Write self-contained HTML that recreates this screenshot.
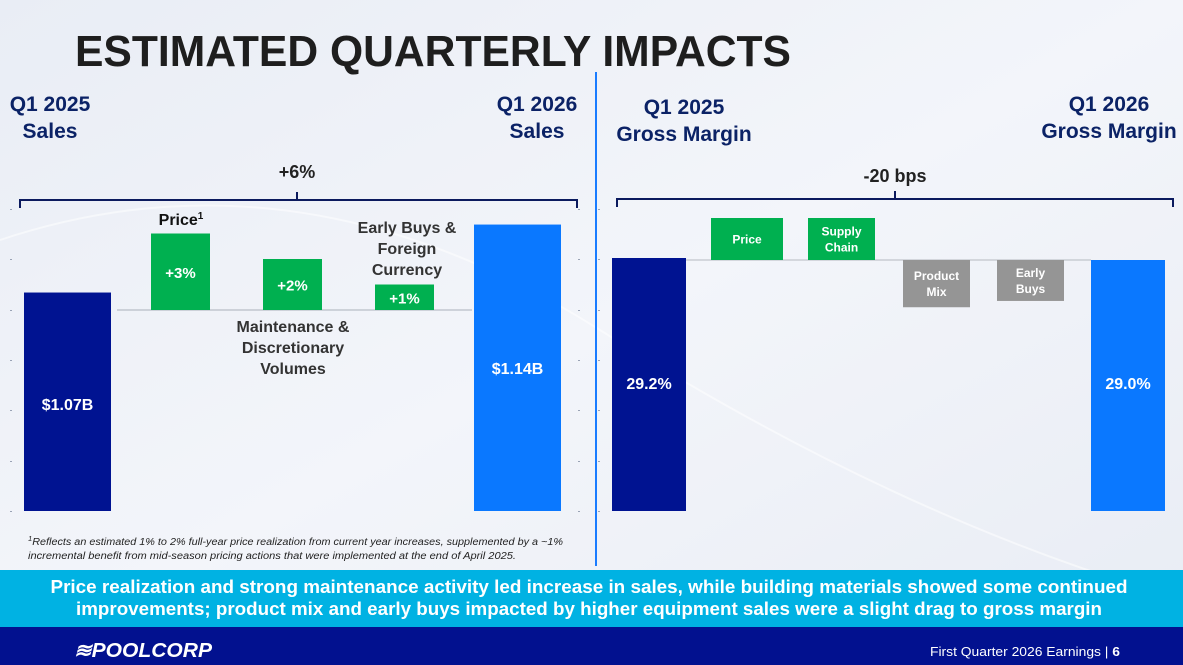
<!DOCTYPE html>
<html><head><meta charset="utf-8">
<style>
html,body{margin:0;padding:0;width:1183px;height:665px;overflow:hidden;background:#eef1f7}
svg{display:block;font-family:"Liberation Sans",sans-serif}
</style></head>
<body>
<svg id="slide" width="1183" height="665" viewBox="0 0 1183 665">
<defs>
<linearGradient id="bg" x1="0" y1="0" x2="1" y2="1">
<stop offset="0" stop-color="#e9edf5"/><stop offset="0.5" stop-color="#f3f5fa"/><stop offset="1" stop-color="#e8ecf4"/>
</linearGradient>
</defs>
<rect x="0" y="0" width="1183" height="665" fill="url(#bg)"/>
<path d="M0 240 Q300 140 600 330 T1183 600" stroke="#ffffff" stroke-opacity="0.5" stroke-width="2" fill="none"/>

<text x="75" y="66" font-size="44" font-weight="bold" fill="#1e1e1e" textLength="716" lengthAdjust="spacingAndGlyphs">ESTIMATED QUARTERLY IMPACTS</text>

<line x1="596" y1="72" x2="596" y2="566" stroke="#1a7cff" stroke-width="2"/>

<g font-weight="bold" fill="#0b2266" font-size="21" text-anchor="middle">
<text x="50" y="111">Q1 2025</text>
<text x="50" y="138">Sales</text>
<text x="537" y="111">Q1 2026</text>
<text x="537" y="138">Sales</text>
<text x="684" y="114">Q1 2025</text>
<text x="684" y="141">Gross Margin</text>
<text x="1109" y="111">Q1 2026</text>
<text x="1109" y="138">Gross Margin</text>
</g>

<g fill="none" stroke="#0b1a5e" stroke-width="2">
<path d="M20 208 L20 200 L297 200 L297 192 M297 200 L577 200 L577 208"/>
<path d="M617 207 L617 199 L895 199 L895 191 M895 199 L1173 199 L1173 207"/>
</g>
<text x="297" y="178" text-anchor="middle" font-size="18" font-weight="bold" fill="#222">+6%</text>
<text x="895" y="182" text-anchor="middle" font-size="18" font-weight="bold" fill="#222">-20 bps</text>

<g id="ticks" fill="#9aa3b5"></g>
<g id="sales-chart"></g>
<g id="margin-chart"></g>

<g font-weight="bold" fill="#333" font-size="16" text-anchor="middle">
<text x="181" y="225" fill="#111">Price<tspan font-size="10" dy="-6">1</tspan></text>
<text x="407" y="233">Early Buys &amp;</text>
<text x="407" y="254">Foreign</text>
<text x="407" y="275">Currency</text>
<text x="293" y="332">Maintenance &amp;</text>
<text x="293" y="353">Discretionary</text>
<text x="293" y="374">Volumes</text>
</g>

<g font-style="italic" font-size="10" fill="#222">
<text x="28" y="545" textLength="535" lengthAdjust="spacingAndGlyphs"><tspan font-size="7" dy="-4">1</tspan><tspan dy="4">Reflects an estimated 1% to 2% full-year price realization from current year increases, supplemented by a ~1%</tspan></text>
<text x="28" y="559" textLength="488" lengthAdjust="spacingAndGlyphs">incremental benefit from mid-season pricing actions that were implemented at the end of April 2025.</text>
</g>

<rect x="0" y="570" width="1183" height="57" fill="#00b2e3"/>
<g font-size="18.5" font-weight="bold" fill="#fff" text-anchor="middle">
<text x="589" y="593" textLength="1077" lengthAdjust="spacingAndGlyphs">Price realization and strong maintenance activity led increase in sales, while building materials showed some continued</text>
<text x="589" y="615" textLength="1026" lengthAdjust="spacingAndGlyphs">improvements; product mix and early buys impacted by higher equipment sales were a slight drag to gross margin</text>
</g>
<rect x="0" y="627" width="1183" height="38" fill="#02118f"/>
<text x="74" y="657" font-size="20" font-weight="bold" font-style="italic" fill="#fff" textLength="138" lengthAdjust="spacingAndGlyphs">≋POOLCORP</text>
<text x="1120" y="656" text-anchor="end" font-size="13" fill="#fff" textLength="190" lengthAdjust="spacingAndGlyphs">First Quarter 2026 Earnings  |  <tspan font-weight="bold">6</tspan></text>
</svg>
<script>
// Sales waterfall data
const salesTotals = [1.07, 1.14];
const salesTotalLabels = ["$1.07B", "$1.14B"];
const salesSteps = [3, 2, 1];
const salesStepLabels = ["+3%", "+2%", "+1%"];
// Gross margin data
const marginTotals = [29.2, 29.0];
const marginTotalLabels = ["29.2%", "29.0%"];
const marginSteps = [40, 40, -45, -39];
const marginStepLabels = [["Price"], ["Supply", "Chain"], ["Product", "Mix"], ["Early", "Buys"]];

const NS = "http://www.w3.org/2000/svg";
function mk(tag, attrs, parent) {
  const e = document.createElementNS(NS, tag);
  for (const k in attrs) e.setAttribute(k, attrs[k]);
  parent.appendChild(e);
  return e;
}
const base = 511;
const ySales = v => base - (v - 0.845) * 971;
const salesPctPx = 25.5;
const yMargin = v => base - (v - 3.9) * 10;
const marginBpsPx = 1.05;

const ticks = document.getElementById("ticks");
[209, 259, 310, 360, 410, 461, 511].forEach(y => {
  [10, 578, 598].forEach(x => {
    const t = mk("rect", {x: x, y: y, width: 2, height: 1}, ticks);
    
    
  });
});

const sg = document.getElementById("sales-chart");
const salesTotalX = [24, 474];
const salesTotalColors = ["#001391", "#0a78ff"];
salesTotals.forEach((v, i) => {
  const y = ySales(v);
  const r = mk("rect", {x: salesTotalX[i], y: y, width: 87, height: base - y, fill: salesTotalColors[i]}, sg);
  
  
  const t = mk("text", {x: salesTotalX[i] + 43.5, y: i === 0 ? 410 : 374, "text-anchor": "middle", "font-size": 16, "font-weight": "bold", fill: "#fff"}, sg);
  t.textContent = salesTotalLabels[i];
  
  
});
const salesBaseY = 310;
const bl = mk("line", {x1: 117, y1: salesBaseY, x2: 472, y2: salesBaseY, stroke: "#aab0ba", "stroke-width": 1}, sg);


salesSteps.forEach((v, i) => {
  const x = 151 + i * 112;
  const h = v * salesPctPx;
  const r = mk("rect", {x: x, y: salesBaseY - h, width: 59, height: h, fill: "#00b050"}, sg);
  
  
  const t = mk("text", {x: x + 29.5, y: salesBaseY - h / 2 + 6, "text-anchor": "middle", "font-size": 15, "font-weight": "bold", fill: "#fff"}, sg);
  t.textContent = salesStepLabels[i];
  
  
});

const mg = document.getElementById("margin-chart");
const marginTotalX = [612, 1091];
marginTotals.forEach((v, i) => {
  const y = yMargin(v);
  const r = mk("rect", {x: marginTotalX[i], y: y, width: 74, height: base - y, fill: salesTotalColors[i]}, mg);
  
  
  const t = mk("text", {x: marginTotalX[i] + 37, y: 389, "text-anchor": "middle", "font-size": 16, "font-weight": "bold", fill: "#fff"}, mg);
  t.textContent = marginTotalLabels[i];
  
  
});
const mBaseY = 260;
const ml = mk("line", {x1: 686, y1: mBaseY, x2: 1091, y2: mBaseY, stroke: "#b5b9c0", "stroke-width": 1}, mg);


const marginStepX = [711, 808, 903, 997];
const marginStepW = [72, 67, 67, 67];
marginSteps.forEach((v, i) => {
  const h = Math.abs(v) * marginBpsPx;
  const y = v >= 0 ? mBaseY - h : mBaseY;
  const r = mk("rect", {x: marginStepX[i], y: y, width: marginStepW[i], height: h, fill: v >= 0 ? "#00b050" : "#959595"}, mg);
  
  
  const lines = marginStepLabels[i];
  const cy = y + h / 2;
  lines.forEach((s, j) => {
    const t = mk("text", {x: marginStepX[i] + marginStepW[i] / 2, y: cy + 4.5 + (j - (lines.length - 1) / 2) * 16, "text-anchor": "middle", "font-size": 12, "font-weight": "bold", fill: "#fff"}, mg);
    t.textContent = s;
    
    
  });
});
</script>
</body></html>
